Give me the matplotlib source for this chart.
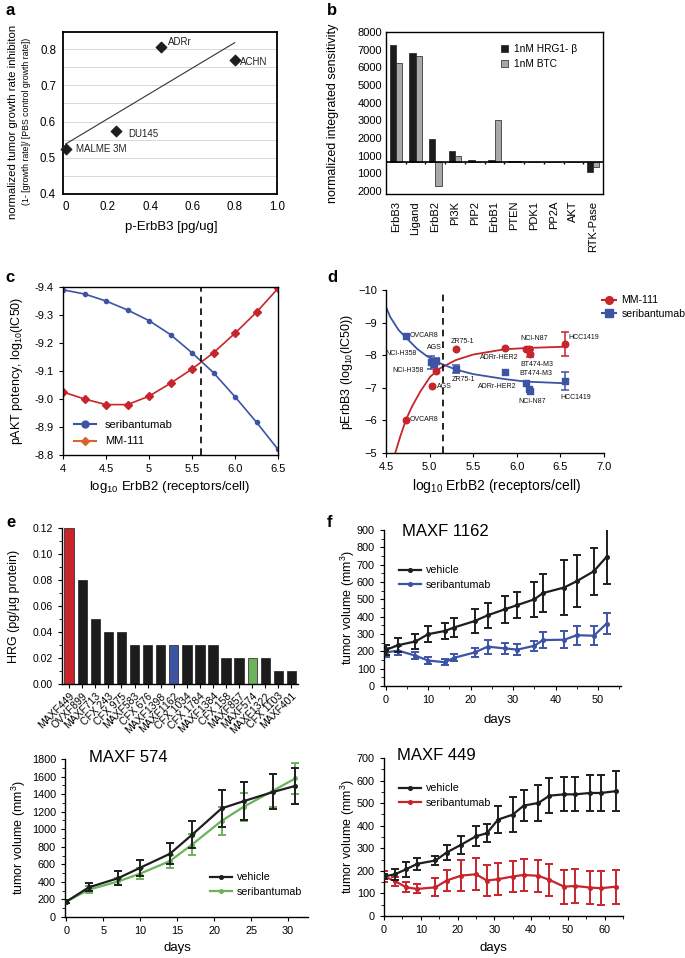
import numpy as np
import matplotlib
matplotlib.use("Agg")
import matplotlib.pyplot as plt
from matplotlib.lines import Line2D
from matplotlib.ticker import MultipleLocator

plt.rcParams["font.family"] = ["Liberation Sans", "DejaVu Sans"]
plt.rcParams["mathtext.default"] = "regular"
plt.rcParams["axes.linewidth"] = 1.0

BLACK = "#1e1e1e"
BLUE = "#3d53a4"
RED = "#c8242b"
GREEN = "#6bb25a"

# ---- a: tumor growth inhibition vs p-ErbB3
a_cells = ["MALME 3M", "DU145", "ADRr", "ACHN"]
a_perbb3 = [0.0, 0.24, 0.45, 0.80]
a_inhib = [0.523, 0.575, 0.805, 0.770]

# ---- b: network sensitivity
b_nodes = ["ErbB3", "Ligand", "ErbB2", "PI3K", "PIP2", "ErbB1", "PTEN", "PDK1", "PP2A", "AKT", "RTK-Pase"]
b_hrg = [7175, 6700, 1400, 660, 120, 80, 30, 0, 0, 0, -620]
b_btc = [6080, 6490, -1480, 370, 0, 2580, 40, 0, 0, 0, -350]
b_ytick_labels = ["8000", "7000", "6000", "5000", "4000", "3000", "2000", "1000", "1000", "2000"]

# ---- c: simulated pAKT potency
c_erbb2 = [4.0, 4.25, 4.5, 4.75, 5.0, 5.25, 5.5, 5.75, 6.0, 6.25, 6.5]
c_seri = [-9.39, -9.375, -9.35, -9.318, -9.28, -9.23, -9.165, -9.094, -9.008, -8.917, -8.82]
c_mm111 = [-9.025, -9.0, -8.98, -8.98, -9.01, -9.056, -9.107, -9.165, -9.235, -9.31, -9.395]
c_cross = 5.61

# ---- d: measured pErbB3 IC50 vs ErbB2
d_mm_x = [4.73, 5.03, 5.07, 5.30, 5.86, 6.10, 6.14, 6.15, 6.55]
d_mm_y = [-6.02, -7.04, -7.52, -8.18, -8.23, -8.18, -8.20, -8.05, -8.35]
d_mm_err = [0, 0, 0, 0, 0, 0, 0.06, 0.10, 0.37]
d_seri_x = [4.73, 5.02, 5.05, 5.07, 5.30, 5.86, 6.10, 6.14, 6.15, 6.55]
d_seri_y = [-8.58, -7.78, -7.72, -7.82, -7.57, -7.49, -7.16, -6.95, -6.90, -7.21]
d_seri_err = [0, 0.20, 0, 0.10, 0.12, 0, 0, 0, 0, 0.29]
d_mm_fit_x = [4.606, 4.664, 4.729, 4.797, 4.892, 5.007, 5.121, 5.30, 5.50, 5.857, 6.10, 6.55]
d_mm_fit_y = [-5.0, -5.51, -6.02, -6.42, -6.88, -7.34, -7.60, -7.85, -8.02, -8.18, -8.22, -8.26]
d_seri_fit_x = [4.5, 4.549, 4.645, 4.729, 4.855, 4.969, 5.121, 5.30, 5.50, 5.857, 6.10, 6.55]
d_seri_fit_y = [-9.48, -9.17, -8.77, -8.54, -8.20, -7.97, -7.75, -7.56, -7.42, -7.27, -7.19, -7.14]
d_threshold = 5.15
d_labels = [
    ("OVCAR8", 4.767, -8.59, "left"), ("AGS", 5.144, -8.23, "right"),
    ("NCI-H358", 4.49, -8.04, "left"), ("ZR75-1", 5.244, -8.41, "left"),
    ("NCI-N87", 6.037, -8.52, "left"), ("HCC1419", 6.586, -8.53, "left"),
    ("ADRr-HER2", 5.579, -7.94, "left"), ("BT474-M3", 6.037, -7.73, "left"),
    ("NCI-H358", 4.572, -7.53, "left"), ("BT474-M3", 6.025, -7.43, "left"),
    ("ZR75-1", 5.255, -7.26, "left"), ("ADRr-HER2", 5.553, -7.04, "left"),
    ("AGS", 5.084, -7.04, "left"), ("HCC1419", 6.494, -6.71, "left"),
    ("NCI-N87", 6.014, -6.58, "left"), ("OVCAR8", 4.767, -6.02, "left"),
]

# ---- e: HRG levels in PDX models
e_models = ["MAXF449", "OVXF899", "MAXF713", "CFX 243", "CFX 975", "MAXF583", "CFX 676", "MAXF1398",
            "MAXF1162", "CFX 1034", "CFX 1784", "MAXF1384", "CFX 158", "MAXF857", "MAXF574",
            "MAXF1322", "CFX 1103", "MAXF401"]
e_hrg = [0.12, 0.08, 0.05, 0.04, 0.04, 0.03, 0.03, 0.03, 0.03, 0.03, 0.03, 0.03,
         0.02, 0.02, 0.02, 0.02, 0.01, 0.01]
e_highlight = {"MAXF449": RED, "MAXF1162": BLUE, "MAXF574": GREEN}

# ---- f: MAXF 1162
f_days = [0, 3, 7, 10, 14, 16, 21, 24, 28, 31, 35, 37, 42, 45, 49, 52]
f_veh = [208, 236, 257, 299, 318, 337, 375, 408, 442, 467, 500, 536, 568, 605, 662, 745]
f_veh_err = [30, 40, 42, 48, 48, 53, 67, 72, 80, 75, 100, 108, 160, 150, 137, 158]
f_seri = [194, 204, 175, 147, 137, 162, 194, 227, 217, 210, 232, 265, 267, 293, 290, 360]
f_seri_err = [28, 25, 20, 18, 17, 20, 25, 40, 33, 33, 30, 45, 50, 55, 55, 60]

# ---- MAXF 574
g_days = [0, 3, 7, 10, 14, 17, 21, 24, 28, 31]
g_veh = [176, 337, 442, 562, 720, 937, 1237, 1320, 1425, 1494]
g_veh_err = [15, 45, 80, 90, 120, 155, 215, 220, 200, 205]
g_seri = [176, 311, 405, 495, 637, 825, 1095, 1256, 1440, 1580]
g_seri_err = [15, 40, 45, 60, 75, 120, 160, 160, 190, 180]

# ---- MAXF 449
h_days = [0, 3, 6, 9, 14, 17, 21, 25, 28, 31, 35, 38, 42, 45, 49, 52, 56, 59, 63]
h_veh = [175, 185, 207, 231, 246, 281, 316, 353, 367, 427, 449, 489, 501, 533, 539, 539, 545, 545, 553]
h_veh_err = [10, 25, 32, 25, 22, 32, 40, 45, 40, 60, 78, 70, 78, 78, 75, 75, 80, 78, 88]
h_seri = [175, 155, 127, 120, 127, 157, 179, 185, 157, 163, 175, 182, 178, 160, 130, 133, 126, 123, 130]
h_seri_err = [25, 20, 22, 20, 40, 45, 70, 70, 70, 70, 70, 70, 70, 70, 75, 75, 75, 75, 75]

W, H = 685, 958
fig = plt.figure(figsize=(W / 100, H / 100), dpi=100)


def px_axes(l, t, r, b):
    return fig.add_axes([l / W, 1 - b / H, (r - l) / W, (b - t) / H])


def ftext(x, y, s, **kw):
    return fig.text(x / W, 1 - y / H, s, **kw)


def panel_letter(x, y, s):
    ftext(x, y, s, fontsize=12, fontweight="bold", va="top", ha="left")


def vlabel(x, y, s, size=9):
    ftext(x, y, s, rotation=90, ha="center", va="center", fontsize=size)


def hlabel(x, y, s, size=9.5):
    ftext(x, y, s, ha="center", va="center", fontsize=size)


def open_axes(ax):
    ax.spines["top"].set_visible(False)
    ax.spines["right"].set_visible(False)


# ================= a
ax = px_axes(63, 32, 277, 194)
ax.scatter(a_perbb3, a_inhib, marker="D", s=28, color=BLACK, zorder=3, clip_on=False)
slope, icpt = np.polyfit(a_perbb3, a_inhib, 1)
xs = np.array([min(a_perbb3), max(a_perbb3)])
ax.plot(xs, icpt + slope * xs, color="#333333", lw=0.8)
for name, dx, dy in [("MALME 3M", 0.049, 0.524), ("DU145", 0.295, 0.566),
                     ("ADRr", 0.485, 0.820), ("ACHN", 0.826, 0.765)]:
    ax.text(dx, dy, name, fontsize=7, va="center", ha="left", color="#222222")
ax.set_xlim(-0.013, 1.0)
ax.set_ylim(0.4, 0.847)
ax.set_xticks([0, 0.2, 0.4, 0.6, 0.8, 1.0])
ax.set_xticklabels(["0", "0.2", "0.4", "0.6", "0.8", "1.0"])
ax.set_yticks([0.4, 0.5, 0.6, 0.7, 0.8])
ax.yaxis.set_minor_locator(MultipleLocator(0.05))
ax.grid(axis="y", which="both", color="#d8d8d8", lw=0.7)
ax.set_axisbelow(True)
ax.tick_params(which="both", length=0, labelsize=8.3, pad=5)
for sp in ax.spines.values():
    sp.set_linewidth(1.3)
vlabel(13, 122, "normalized tumor growth rate inhibiton", size=8.2)
vlabel(27, 121, "(1- [growth rate]/ [PBS control growth rate])", size=6.3)
hlabel(171, 227, "p-ErbB3 [pg/ug]", size=9.5)
panel_letter(5, 3, "a")

# ================= b
ax = px_axes(386, 32, 603, 194)
bx = np.arange(len(b_nodes))
ax.bar(bx - 0.16, b_hrg, 0.32, color="#1c1c1c", edgecolor="#1c1c1c", lw=0.5, label="1nM HRG1- \u03b2")
ax.bar(bx + 0.16, b_btc, 0.32, color="#a8a8a8", edgecolor="#1c1c1c", lw=0.5, label="1nM BTC")
ax.axhline(0, color="k", lw=1.2)
ax.vlines(bx[:-1] + 0.5, -140, 0, color="k", lw=1)
ax.set_xlim(-0.5, 10.5)
ax.set_ylim(-2000, 8000)
ax.set_xticks(bx)
ax.set_xticklabels(b_nodes, rotation=90, fontsize=8)
ax.set_yticks(np.linspace(8000, -1820, 10))
ax.set_yticklabels(b_ytick_labels, fontsize=8)
ax.tick_params(length=0, pad=3)
ax.tick_params(axis="x", pad=5)
ax.legend(loc="upper left", bbox_to_anchor=(496 / W, 1 - 39 / H), bbox_transform=fig.transFigure,
          frameon=False, fontsize=7.3, handlelength=0.7, handleheight=0.7, handletextpad=0.6,
          labelspacing=0.45, borderpad=0)
vlabel(333, 113, "normalized integrated sensitivity", size=9)
panel_letter(327, 3, "b")

# ================= c
ax = px_axes(63, 287, 278, 455)
ax.plot(c_erbb2, c_seri, "-o", color=BLUE, ms=3, lw=1.2)
ax.plot(c_erbb2, c_mm111, "-D", color=RED, ms=4.2, lw=1.2)
ax.axvline(c_cross, ls=(0, (4, 3)), color="k", lw=1.2)
ax.set_xlim(4, 6.5)
ax.set_ylim(-8.8, -9.4)
ax.set_xticks([4, 4.5, 5, 5.5, 6, 6.5])
ax.set_xticklabels(["4", "4.5", "5", "5.5", "6.0", "6.5"])
ax.set_yticks([-9.4, -9.3, -9.2, -9.1, -9.0, -8.9, -8.8])
ax.set_yticklabels(["-9.4", "-9.3", "-9.2", "-9.1", "-9.0", "-8.9", "-8.8"])
ax.tick_params(labelsize=8, length=3)
c_handles = [Line2D([], [], color=BLUE, marker="o", ms=5, lw=1.5),
             Line2D([], [], color="#d8632e", marker="D", ms=4.5, lw=1.5)]
ax.legend(c_handles, ["seribantumab", "MM-111"], loc="lower left",
          bbox_to_anchor=(68 / W, 1 - 452 / H), bbox_transform=fig.transFigure,
          frameon=False, fontsize=8, handlelength=2.0, labelspacing=0.6, borderpad=0)
vlabel(17, 371, "pAKT potency, log$_{10}$(IC50)", size=9)
hlabel(170, 487, "log$_{10}$ ErbB2 (receptors/cell)", size=9.5)
panel_letter(5, 270, "c")

# ================= d
ax = px_axes(386, 290, 604, 453)
open_axes(ax)
ax.plot(d_mm_fit_x, d_mm_fit_y, color=RED, lw=1.3)
ax.plot(d_seri_fit_x, d_seri_fit_y, color=BLUE, lw=1.3)
ax.axvline(d_threshold, ls=(0, (4, 3)), color="k", lw=1.2)
mm_err = np.array(d_mm_err)
se_err = np.array(d_seri_err)
ax.scatter(d_mm_x, d_mm_y, marker="o", s=22, color=RED, zorder=3)
ax.scatter(d_seri_x, d_seri_y, marker="s", s=24, color=BLUE, zorder=3)
m = mm_err > 0
ax.errorbar(np.array(d_mm_x)[m], np.array(d_mm_y)[m], yerr=mm_err[m], fmt="none",
            ecolor=RED, elinewidth=1.1, capsize=3, capthick=1.1)
m = se_err > 0
ax.errorbar(np.array(d_seri_x)[m], np.array(d_seri_y)[m], yerr=se_err[m], fmt="none",
            ecolor=BLUE, elinewidth=1.1, capsize=3, capthick=1.1)
for name, lx, ly, ha in d_labels:
    ax.text(lx, ly, name, fontsize=5, ha=ha, va="center", color="#111111")
ax.set_xlim(4.5, 7.0)
ax.set_ylim(-5, -10)
ax.set_xticks([4.5, 5.0, 5.5, 6.0, 6.5, 7.0])
ax.set_xticklabels(["4.5", "5.0", "5.5", "6.0", "6.5", "7.0"])
ax.set_yticks([-10, -9, -8, -7, -6, -5])
ax.tick_params(labelsize=8, length=3)
d_handles = [Line2D([], [], color=RED, marker="o", ms=5.5, lw=1.5),
             Line2D([], [], color=BLUE, marker="s", ms=5.5, lw=1.5)]
ax.legend(d_handles, ["MM-111", "seribantumab"], loc="upper left",
          bbox_to_anchor=(597 / W, 1 - 290 / H), bbox_transform=fig.transFigure,
          frameon=False, fontsize=7.6, handlelength=1.3, handletextpad=0.5,
          labelspacing=0.35, borderpad=0)
vlabel(347, 372, "pErbB3 (log$_{10}$(IC50))", size=9)
hlabel(497, 486, "log$_{10}$ ErbB2 (receptors/cell)", size=10)
panel_letter(327, 270, "d")

# ================= e
ax = px_axes(62, 528, 298, 684)
open_axes(ax)
ex = np.arange(len(e_models))
ecolors = [e_highlight.get(mname, "#1c1c1c") for mname in e_models]
ax.bar(ex, e_hrg, 0.72, color=ecolors, edgecolor="#1c1c1c", lw=0.5)
ax.set_xlim(-0.55, 17.5)
ax.set_ylim(0, 0.12)
ax.set_xticks(ex)
ax.set_xticklabels(e_models, rotation=45, ha="right", rotation_mode="anchor", fontsize=6.8)
ax.set_yticks([0, 0.02, 0.04, 0.06, 0.08, 0.10, 0.12])
ax.set_yticklabels(["0.00", "0.02", "0.04", "0.06", "0.08", "0.10", "0.12"])
ax.yaxis.set_minor_locator(MultipleLocator(0.01))
ax.tick_params(labelsize=7.5, length=3)
ax.tick_params(axis="x", pad=2)
vlabel(14, 606, "HRG (pg/\u00b5g protein)", size=9)
panel_letter(6, 515, "e")


# ================= tumor growth panels
def growth_panel(ax, days, veh, veh_err, seri, seri_err, scolor):
    open_axes(ax)
    ax.errorbar(days, veh, yerr=veh_err, color=BLACK, marker="o", ms=2.6, lw=1.6,
                elinewidth=1.4, capsize=2.8, capthick=1.4, zorder=3)
    ax.errorbar(days, seri, yerr=seri_err, color=scolor, marker="o", ms=2.6, lw=1.6,
                elinewidth=1.4, capsize=2.8, capthick=1.4, zorder=2)
    ax.tick_params(labelsize=7.8, length=3)
    ax.tick_params(which="minor", length=2)


def growth_legend(ax, scolor, x, y):
    hs = [Line2D([], [], color=BLACK, marker="o", ms=2.6, lw=1.6),
          Line2D([], [], color=scolor, marker="o", ms=2.6, lw=1.6)]
    ax.legend(hs, ["vehicle", "seribantumab"], loc="upper left",
              bbox_to_anchor=(x / W, 1 - y / H), bbox_transform=fig.transFigure,
              frameon=False, fontsize=7.7, handlelength=2.0, handletextpad=0.5,
              labelspacing=0.4, borderpad=0)


# f: MAXF 1162
ax = px_axes(384, 530, 621, 686)
growth_panel(ax, f_days, f_veh, f_veh_err, f_seri, f_seri_err, BLUE)
ax.set_xlim(-0.4, 55.4)
ax.set_ylim(0, 900)
ax.set_xticks([0, 10, 20, 30, 40, 50])
ax.xaxis.set_minor_locator(MultipleLocator(5))
ax.set_yticks(np.arange(0, 901, 100))
ax.yaxis.set_minor_locator(MultipleLocator(50))
growth_legend(ax, BLUE, 394, 560)
ftext(402, 532, "MAXF 1162", fontsize=12, va="center", ha="left")
vlabel(348, 608, "tumor volume (mm$^3$)", size=9)
hlabel(497, 720, "days", size=9.5)
panel_letter(327, 515, "f")

# MAXF 574
ax = px_axes(65, 759, 308, 917)
growth_panel(ax, g_days, g_veh, g_veh_err, g_seri, g_seri_err, GREEN)
ax.set_xlim(-0.2, 32.7)
ax.set_ylim(0, 1800)
ax.set_xticks([0, 5, 10, 15, 20, 25, 30])
ax.set_yticks(np.arange(0, 1801, 200))
ax.yaxis.set_minor_locator(MultipleLocator(100))
growth_legend(ax, GREEN, 205, 867)
ftext(89, 757, "MAXF 574", fontsize=12, va="center", ha="left")
vlabel(19, 838, "tumor volume (mm$^3$)", size=9)
hlabel(177, 948, "days", size=9.5)

# MAXF 449
ax = px_axes(384, 758, 623, 916)
growth_panel(ax, h_days, h_veh, h_veh_err, h_seri, h_seri_err, RED)
ax.set_xlim(0, 65)
ax.set_ylim(0, 700)
ax.set_xticks([0, 10, 20, 30, 40, 50, 60])
ax.xaxis.set_minor_locator(MultipleLocator(5))
ax.set_yticks(np.arange(0, 701, 100))
ax.yaxis.set_minor_locator(MultipleLocator(50))
growth_legend(ax, RED, 394, 778)
ftext(397, 756, "MAXF 449", fontsize=12, va="center", ha="left")
vlabel(348, 837, "tumor volume (mm$^3$)", size=9)
hlabel(493, 948, "days", size=9.5)

fig.savefig("out.png", dpi=100)
